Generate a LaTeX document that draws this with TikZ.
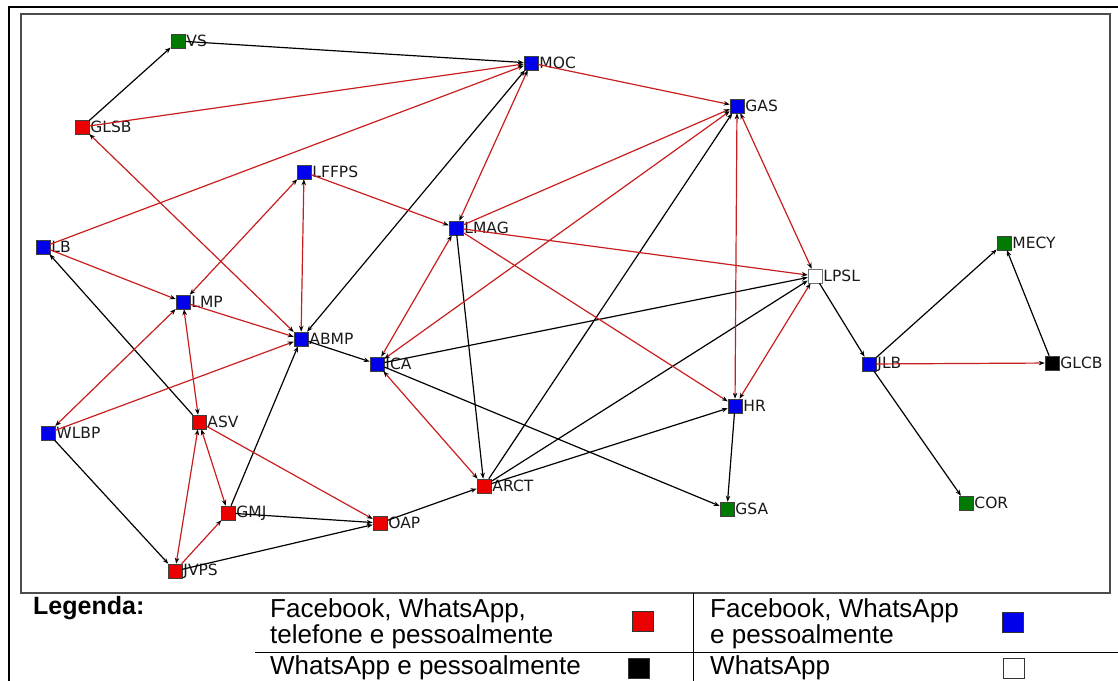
\documentclass[tikz,border=0pt]{standalone}
\usepackage{fontspec}
\setmainfont{Liberation Sans}
\newfontfamily\lblfont{DejaVu Sans}
\usetikzlibrary{arrows.meta}
\definecolor{nred}{RGB}{235,0,0}
\definecolor{nblue}{RGB}{0,0,235}
\definecolor{ngreen}{RGB}{0,122,0}
\definecolor{ered}{RGB}{200,30,30}
\begin{document}
\begin{tikzpicture}[x=1pt,y=-1pt,
  nd/.style={draw=black!75, line width=0.5pt, minimum size=14pt, inner sep=0pt,
    label={[lbl]right:#1}},
  lbl/.style={font=\lblfont\fontsize{15.5}{17}\selectfont, inner sep=0pt, label distance=1pt, text=black!90},
  rn/.style={nd=#1, fill=nred},
  bn/.style={nd=#1, fill=nblue},
  gn/.style={nd=#1, fill=ngreen},
  kn/.style={nd=#1, fill=black},
  wn/.style={nd=#1, fill=white, draw=black!55},
  tip/.style={-{Stealth[length=6pt,width=4.5pt,color=black]}},
  tips/.style={{Stealth[length=6pt,width=4.5pt,color=black]}-{Stealth[length=6pt,width=4.5pt,color=black]}},
  be/.style={draw=black, line width=1.2pt, tip},
  bb/.style={draw=black, line width=1.2pt, tips},
  re/.style={draw=ered, line width=1.2pt, tip},
  rb/.style={draw=ered, line width=1.2pt, tips},
  leg/.style={anchor=base west, inner sep=0pt, font=\fontsize{26}{28}\selectfont},
  legsq/.style={draw=black!80, line width=0.8pt, minimum width=21pt, minimum height=20pt, inner sep=0pt}
]
\useasboundingbox (0,0) rectangle (1118,680);
% frames
\draw[line width=2.8pt] (9,681) -- (9,7) -- (1119,7);
\draw[black!70, line width=1.4pt] (21,14) rectangle (1110,593);
\draw[line width=1pt] (255,652) -- (1119,652);
\draw[line width=1pt] (693,593) -- (693,681);

% nodes
\node[gn=VS]    (VS)    at (178,41)  {};
\node[bn=MOC]   (MOC)   at (531,63)  {};
\node[bn=GAS]   (GAS)   at (737,106) {};
\node[rn=GLSB]  (GLSB)  at (82,127)  {};
\node[bn=LFFPS] (LFFPS) at (304,172) {};
\node[bn=LMAG]  (LMAG)  at (456,228) {};
\node[bn=LB]    (LB)    at (43,247)  {};
\node[gn=MECY]  (MECY)  at (1004,243) {};
\node[wn=LPSL]  (LPSL)  at (815,276) {};
\node[bn=LMP]   (LMP)   at (183,302) {};
\node[bn=ABMP]  (ABMP)  at (301,339) {};
\node[bn=ICA]   (ICA)   at (377,364) {};
\node[bn=JLB]   (JLB)   at (869,364) {};
\node[kn=GLCB]  (GLCB)  at (1052,363) {};
\node[bn=HR]    (HR)    at (735,406) {};
\node[rn=ASV]   (ASV)   at (199,422) {};
\node[bn=WLBP]  (WLBP)  at (48,433)  {};
\node[rn=ARCT]  (ARCT)  at (484,486) {};
\node[gn=GSA]   (GSA)   at (727,509) {};
\node[gn=COR]   (COR)   at (966,503) {};
\node[rn=GMJ]   (GMJ)   at (228,513) {};
\node[rn=OAP]   (OAP)   at (380,523) {};
\node[rn=JVPS]  (JVPS)  at (175,571) {};

% black edges
\draw[be] (GLSB) -- (VS);
\draw[be] (VS) -- (MOC);
\draw[bb] (ABMP) -- (MOC);
\draw[be] (LMAG) -- (ARCT);
\draw[be] (ARCT) -- (GAS);
\draw[be] (ICA) -- (LPSL);
\draw[be] (ARCT) -- (LPSL);
\draw[be] (LPSL) -- (JLB);
\draw[be] (JLB) -- (MECY);
\draw[be] (GLCB) -- (MECY);
\draw[be] (JLB) -- (COR);
\draw[be] (HR) -- (GSA);
\draw[be] (ICA) -- (GSA);
\draw[be] (ARCT) -- (HR);
\draw[be] (ABMP) -- (ICA);
\draw[be] (OAP) -- (ARCT);
\draw[be] (ASV) -- (LB);
\draw[be] (WLBP) -- (JVPS);
\draw[be] (GMJ) -- (ABMP);
\draw[be] (GMJ) -- (OAP);
\draw[be] (JVPS) -- (OAP);

% red edges
\draw[re] (GLSB) -- (MOC);
\draw[re] (LB) -- (MOC);
\draw[rb] (ABMP) -- (GLSB);
\draw[re] (MOC) -- (GAS);
\draw[rb] (LMAG) -- (MOC);
\draw[re] (LFFPS) -- (LMAG);
\draw[re] (LMAG) -- (GAS);
\draw[rb] (ICA) -- (GAS);
\draw[rb] (GAS) -- (LPSL);
\draw[rb] (GAS) -- (HR);
\draw[rb] (LPSL) -- (HR);
\draw[re] (LMAG) -- (LPSL);
\draw[re] (JLB) -- (GLCB);
\draw[rb] (ICA) -- (ARCT);
\draw[re] (LMAG) -- (HR);
\draw[rb] (ICA) -- (LMAG);
\draw[rb] (LFFPS) -- (ABMP);
\draw[rb] (LMP) -- (LFFPS);
\draw[re] (LB) -- (LMP);
\draw[re] (LMP) -- (ABMP);
\draw[rb] (LMP) -- (ASV);
\draw[rb] (WLBP) -- (LMP);
\draw[re] (WLBP) -- (ABMP);
\draw[rb] (ASV) -- (JVPS);
\draw[rb] (ASV) -- (GMJ);
\draw[re] (JVPS) -- (GMJ);
\draw[re] (ASV) -- (OAP);

% legend
\node[leg, font=\bfseries\fontsize{25}{27}\selectfont] (legt) at (33,614) {Legenda:};
\node[leg] (l1a) at (270,617) {Facebook, WhatsApp,};
\node[leg] (l1b) at (270,643) {telefone e pessoalmente};
\node[leg] (l2a) at (710,617) {Facebook, WhatsApp};
\node[leg] (l2b) at (710,643) {e pessoalmente};
\node[leg] (l3)  at (270,674) {WhatsApp e pessoalmente};
\node[leg] (l4)  at (710,674) {WhatsApp};
\node[legsq, fill=nred]  (sqr) at (643,621) {};
\node[legsq, fill=nblue] (sqb) at (1013,622) {};
\node[legsq, fill=black] (sqk) at (639,668) {};
\node[legsq, fill=white] (sqw) at (1014,668) {};
\end{tikzpicture}
\end{document}
